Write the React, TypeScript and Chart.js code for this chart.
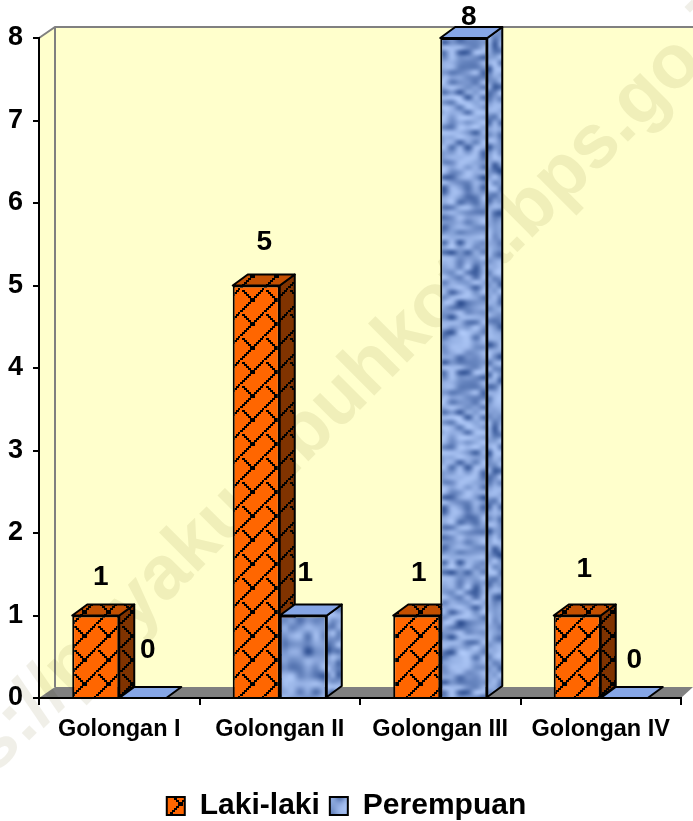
import React, { useEffect, useRef } from "react";
import { Chart, registerables } from "chart.js";

Chart.register(...registerables);

const categories = ["Golongan I", "Golongan II", "Golongan III", "Golongan IV"];
const lakiLaki = [1, 5, 1, 1];
const perempuan = [0, 1, 8, 0];
const seriesNames = ["Laki-laki", "Perempuan"];
const watermarkHead = "https://payakumbuhkota";
const watermarkTail = ".bps.go.id";
const labelNudges = [
  [[5, -38], [8, -43], [2, -42], [7, -46]],
  [[5, -48], [2, -42], [5, -21], [10, -38]],
];

const FONT = '"Liberation Sans", Arial, sans-serif';
const DX = 15;
const DY = 11;
const WALL_DX = 16;

function trellis(bg: string, line: string): CanvasPattern {
  const c = document.createElement("canvas");
  c.width = 24;
  c.height = 24;
  const x = c.getContext("2d")!;
  x.fillStyle = bg;
  x.fillRect(0, 0, 24, 24);
  x.fillStyle = line;
  for (let i = 0; i < 24; i += 2) {
    x.fillRect(i, 22 - i, 3, 2);
    if (i < 12) x.fillRect(i + 2, i + 2, 3, 2);
  }
  return x.createPattern(c, "repeat")!;
}

function tissue(dark: number[], light: number[], cw: number, ch: number, seed: number): CanvasPattern {
  const cols = 12;
  const rows = 64;
  const small = document.createElement("canvas");
  small.width = cols + 2;
  small.height = rows + 2;
  const s = small.getContext("2d")!;
  const h = (a: number, b: number) => {
    const v = Math.sin(a * 12.9898 + b * 78.233 + seed) * 43758.5453;
    return v - Math.floor(v);
  };
  for (let r = 0; r < rows + 2; r++) {
    for (let q = 0; q < cols + 2; q++) {
      const t = Math.pow(h((r % rows) + 1, (q % cols) + 1), 0.5);
      const mix = dark.map((d, i) => Math.round(d + (light[i] - d) * t));
      s.fillStyle = `rgb(${mix.join(",")})`;
      s.fillRect(q, r, 1, 1);
    }
  }
  const c = document.createElement("canvas");
  c.width = cols * cw;
  c.height = rows * ch;
  const x = c.getContext("2d")!;
  x.imageSmoothingEnabled = true;
  x.imageSmoothingQuality = "high";
  x.drawImage(small, -cw, -ch, (cols + 2) * cw, (rows + 2) * ch);
  return x.createPattern(c, "repeat")!;
}

export default function App() {
  const ref = useRef<HTMLCanvasElement>(null);
  useEffect(() => {
    const orange = trellis("#ff6600", "#000000");
    const orangeSide = trellis("#803300", "#000000");
    const orangeTop = trellis("#c45000", "#000000");
    const dark = [34, 68, 136];
    const light = [172, 198, 246];
    const blueTall = tissue(dark, light, 8, 5, 1);
    const blueShort = tissue(dark, light, 8, 8, 2);
    const blueSide = tissue(dark, light, 6, 6, 3);

    const backdrop = {
      id: "backdrop",
      beforeDraw(chart: any) {
        const { ctx, chartArea: a } = chart;
        ctx.save();
        ctx.fillStyle = "#ffffff";
        ctx.fillRect(0, 0, chart.width, chart.height);
        ctx.fillStyle = "#ffffcc";
        ctx.beginPath();
        ctx.moveTo(a.left, a.top);
        ctx.lineTo(a.left + WALL_DX, a.top - DY);
        ctx.lineTo(chart.width, a.top - DY);
        ctx.lineTo(chart.width, a.bottom - DY);
        ctx.lineTo(a.left, a.bottom);
        ctx.closePath();
        ctx.fill();
        ctx.fillStyle = "#808080";
        ctx.beginPath();
        ctx.moveTo(a.left, a.bottom);
        ctx.lineTo(a.left + WALL_DX, a.bottom - DY);
        ctx.lineTo(chart.width, a.bottom - DY);
        ctx.lineTo(a.right, a.bottom);
        ctx.closePath();
        ctx.fill();
        ctx.strokeStyle = "#808080";
        ctx.lineWidth = 2;
        ctx.beginPath();
        ctx.moveTo(a.left, a.top);
        ctx.lineTo(a.left + WALL_DX, a.top - DY);
        ctx.lineTo(chart.width, a.top - DY);
        ctx.moveTo(a.left + WALL_DX, a.top - DY);
        ctx.lineTo(a.left + WALL_DX, a.bottom - DY);
        ctx.stroke();
        ctx.globalCompositeOperation = "multiply";
        ctx.translate(499, 241);
        ctx.rotate(-Math.PI / 4);
        ctx.font = `bold 76px ${FONT}`;
        ctx.textAlign = "left";
        ctx.textBaseline = "middle";
        ctx.fillStyle = "#f0efe8";
        ctx.fillText(watermarkHead + watermarkTail, -ctx.measureText(watermarkHead).width, 0);
        ctx.restore();
      },
    };

    const faces = {
      id: "faces",
      beforeDatasetsDraw(chart: any) {
        const { ctx } = chart;
        ctx.save();
        ctx.strokeStyle = "#000000";
        ctx.lineWidth = 2;
        ctx.lineJoin = "round";
        chart.data.datasets.forEach((_: any, d: number) => {
          chart.getDatasetMeta(d).data.forEach((el: any) => {
            const { x, y, base, width } = el.getProps(["x", "y", "base", "width"], true);
            const l = x - width / 2;
            const r = x + width / 2;
            if (base - y > 0.5) {
              ctx.fillStyle = d === 0 ? orangeSide : blueSide;
              ctx.beginPath();
              ctx.moveTo(r, y);
              ctx.lineTo(r + DX, y - DY);
              ctx.lineTo(r + DX, base - DY);
              ctx.lineTo(r, base);
              ctx.closePath();
              ctx.fill();
              ctx.stroke();
            }
            ctx.fillStyle = d === 0 ? orangeTop : "#86a6e6";
            ctx.beginPath();
            ctx.moveTo(l, y);
            ctx.lineTo(l + DX, y - DY);
            ctx.lineTo(r + DX, y - DY);
            ctx.lineTo(r, y);
            ctx.closePath();
            ctx.fill();
            ctx.stroke();
          });
        });
        ctx.restore();
      },
      afterDatasetsDraw(chart: any) {
        const { ctx } = chart;
        ctx.save();
        ctx.fillStyle = "#000000";
        ctx.font = `bold 28px ${FONT}`;
        ctx.textAlign = "center";
        ctx.textBaseline = "middle";
        chart.data.datasets.forEach((ds: any, d: number) => {
          chart.getDatasetMeta(d).data.forEach((el: any, i: number) => {
            const [nx, ny] = labelNudges[d][i];
            ctx.fillText(String(ds.data[i]), el.x + nx, el.y + ny);
          });
        });
        ctx.restore();
      },
    };

    const chart = new Chart(ref.current!, {
      type: "bar",
      data: {
        labels: categories,
        datasets: [
          { label: seriesNames[0], data: lakiLaki, backgroundColor: orange, borderColor: "#000000", borderWidth: 2 },
          {
            label: seriesNames[1],
            data: perempuan,
            backgroundColor: [blueTall, blueShort, blueTall, blueTall],
            borderColor: "#000000",
            borderWidth: 2,
          },
        ],
      },
      options: {
        responsive: false,
        animation: false,
        layout: { padding: { top: 38, right: 0, bottom: -10, left: 0 } },
        datasets: { bar: { categoryPercentage: 0.586, barPercentage: 1 } },
        plugins: {
          tooltip: { enabled: false },
          legend: {
            position: "bottom",
            labels: {
              color: "#000000",
              font: { family: FONT, size: 30, weight: "bold" },
              boxWidth: 18,
              boxHeight: 18,
              padding: 10,
              generateLabels(chart: any) {
                return chart.data.datasets.map((ds: any, i: number) => ({
                  text: ds.label,
                  fillStyle: i === 0 ? orange : blueShort,
                  strokeStyle: "#000000",
                  lineWidth: 2,
                  datasetIndex: i,
                }));
              },
            },
          },
        },
        scales: {
          x: {
            afterFit(s: any) { s.height = 83; },
            border: { display: true, color: "#000000", width: 2 },
            grid: { drawOnChartArea: false, drawTicks: true, color: "#000000", lineWidth: 2, tickLength: 7 },
            ticks: { color: "#000000", font: { family: FONT, size: 23.5, weight: "bold" }, padding: 10, maxRotation: 0 },
          },
          y: {
            min: 0,
            max: 8,
            afterFit(s: any) { s.width = 39; },
            border: { display: true, color: "#000000", width: 2 },
            grid: { drawOnChartArea: false, drawTicks: true, color: "#000000", lineWidth: 2, tickLength: 6 },
            ticks: { stepSize: 1, color: "#000000", font: { family: FONT, size: 27, weight: "bold" }, padding: 10 },
          },
          rightGutter: {
            position: "right",
            display: true,
            afterFit(s: any) { s.width = 12; },
            border: { display: false },
            grid: { display: false },
            ticks: { display: false },
          },
        },
      },
      plugins: [backdrop, faces],
    } as any);
    return () => chart.destroy();
  }, []);
  return (
    <div style={{ position: "absolute", left: 0, top: 0, width: 693, height: 821 }}>
      <canvas ref={ref} width={693} height={821} style={{ display: "block" }} />
    </div>
  );
}
